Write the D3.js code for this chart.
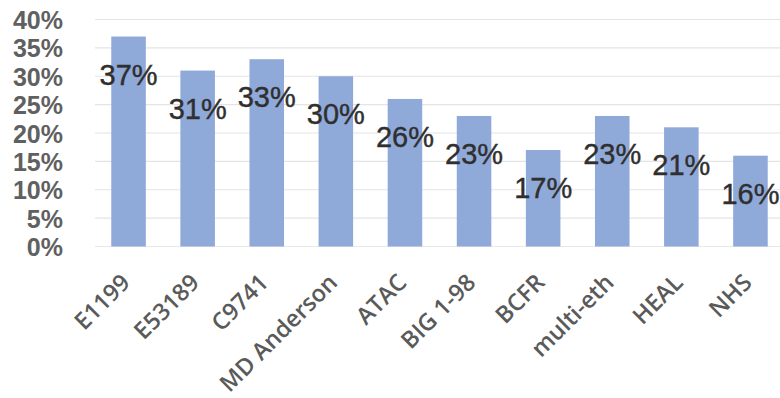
<!DOCTYPE html>
<html>
<head>
<meta charset="utf-8">
<script src="https://cdn.jsdelivr.net/npm/d3@7"></script>
<style>
  html, body { margin: 0; padding: 0; background: #ffffff; }
  svg { display: block; }
</style>
</head>
<body>
<svg id="chart" width="780" height="398"></svg>
<script>
const categories = ["E1199", "E53189", "C9741", "MD Anderson", "ATAC", "BIG 1-98", "BCFR", "multi-eth", "HEAL", "NHS"];
const values = [37, 31, 33, 30, 26, 23, 17, 23, 21, 16];
const yTicks = [0, 5, 10, 15, 20, 25, 30, 35, 40];

const svg = d3.select("#chart");
const W = 780;

const x = d3.scaleBand()
  .domain(categories)
  .range([94, 785])
  .paddingInner(0.5)
  .paddingOuter(0.25);

const y = d3.scaleLinear()
  .domain([0, 40])
  .range([246.5, 19.5]);

// gridlines
svg.append("g")
  .selectAll("line")
  .data(yTicks.filter(d => d > 0))
  .join("line")
  .attr("x1", 95).attr("x2", W)
  .attr("y1", d => y(d)).attr("y2", d => y(d))
  .attr("stroke", "#e4e4e4")
  .attr("stroke-width", 1.2);

// baseline
svg.append("line")
  .attr("x1", 95).attr("x2", W)
  .attr("y1", y(0)).attr("y2", y(0))
  .attr("stroke", "#e8e8e8")
  .attr("stroke-width", 1.2);

// y axis labels
const yAxis = d3.axisLeft(y).tickValues(yTicks).tickFormat(d => d + "%").tickSize(0).tickPadding(0);
const yg = svg.append("g").attr("transform", "translate(63,0)").call(yAxis);
yg.select(".domain").remove();
yg.selectAll("text")
  .attr("font-family", "'Liberation Sans', Arial, sans-serif")
  .attr("font-size", 25)
  .attr("font-weight", "bold")
  .attr("fill", "#606060")
  .attr("dy", "0.36em");

// bars
svg.append("g")
  .selectAll("rect")
  .data(values)
  .join("rect")
  .attr("x", (d, i) => x(categories[i]))
  .attr("width", x.bandwidth())
  .attr("y", d => y(d))
  .attr("height", d => y(0) - y(d))
  .attr("fill", "#8fa9d9");

// value labels
svg.append("g")
  .selectAll("text")
  .data(values)
  .join("text")
  .attr("x", (d, i) => x(categories[i]) + x.bandwidth() / 2)
  .attr("y", d => y(d) + 48)
  .attr("text-anchor", "middle")
  .attr("font-family", "'Liberation Sans', Arial, sans-serif")
  .attr("font-size", 29)
  .attr("fill", "#2f2f2f")
  .attr("stroke", "#2f2f2f")
  .attr("stroke-width", 0.4)
  .text(d => d + "%");

// x labels
const xg = svg.append("g");
xg.selectAll("text")
  .data(categories)
  .join("text")
  .attr("transform", d => `translate(${x(d) + x.bandwidth() / 2 + 3},284) rotate(-45)`)
  .attr("text-anchor", "end")
  .attr("font-family", "'Open Sans', sans-serif")
  .attr("font-weight", 600)
  .attr("font-size", 23.5)
  .attr("fill", "#5a5a5a")
  .text(d => d);
</script>
</body>
</html>
